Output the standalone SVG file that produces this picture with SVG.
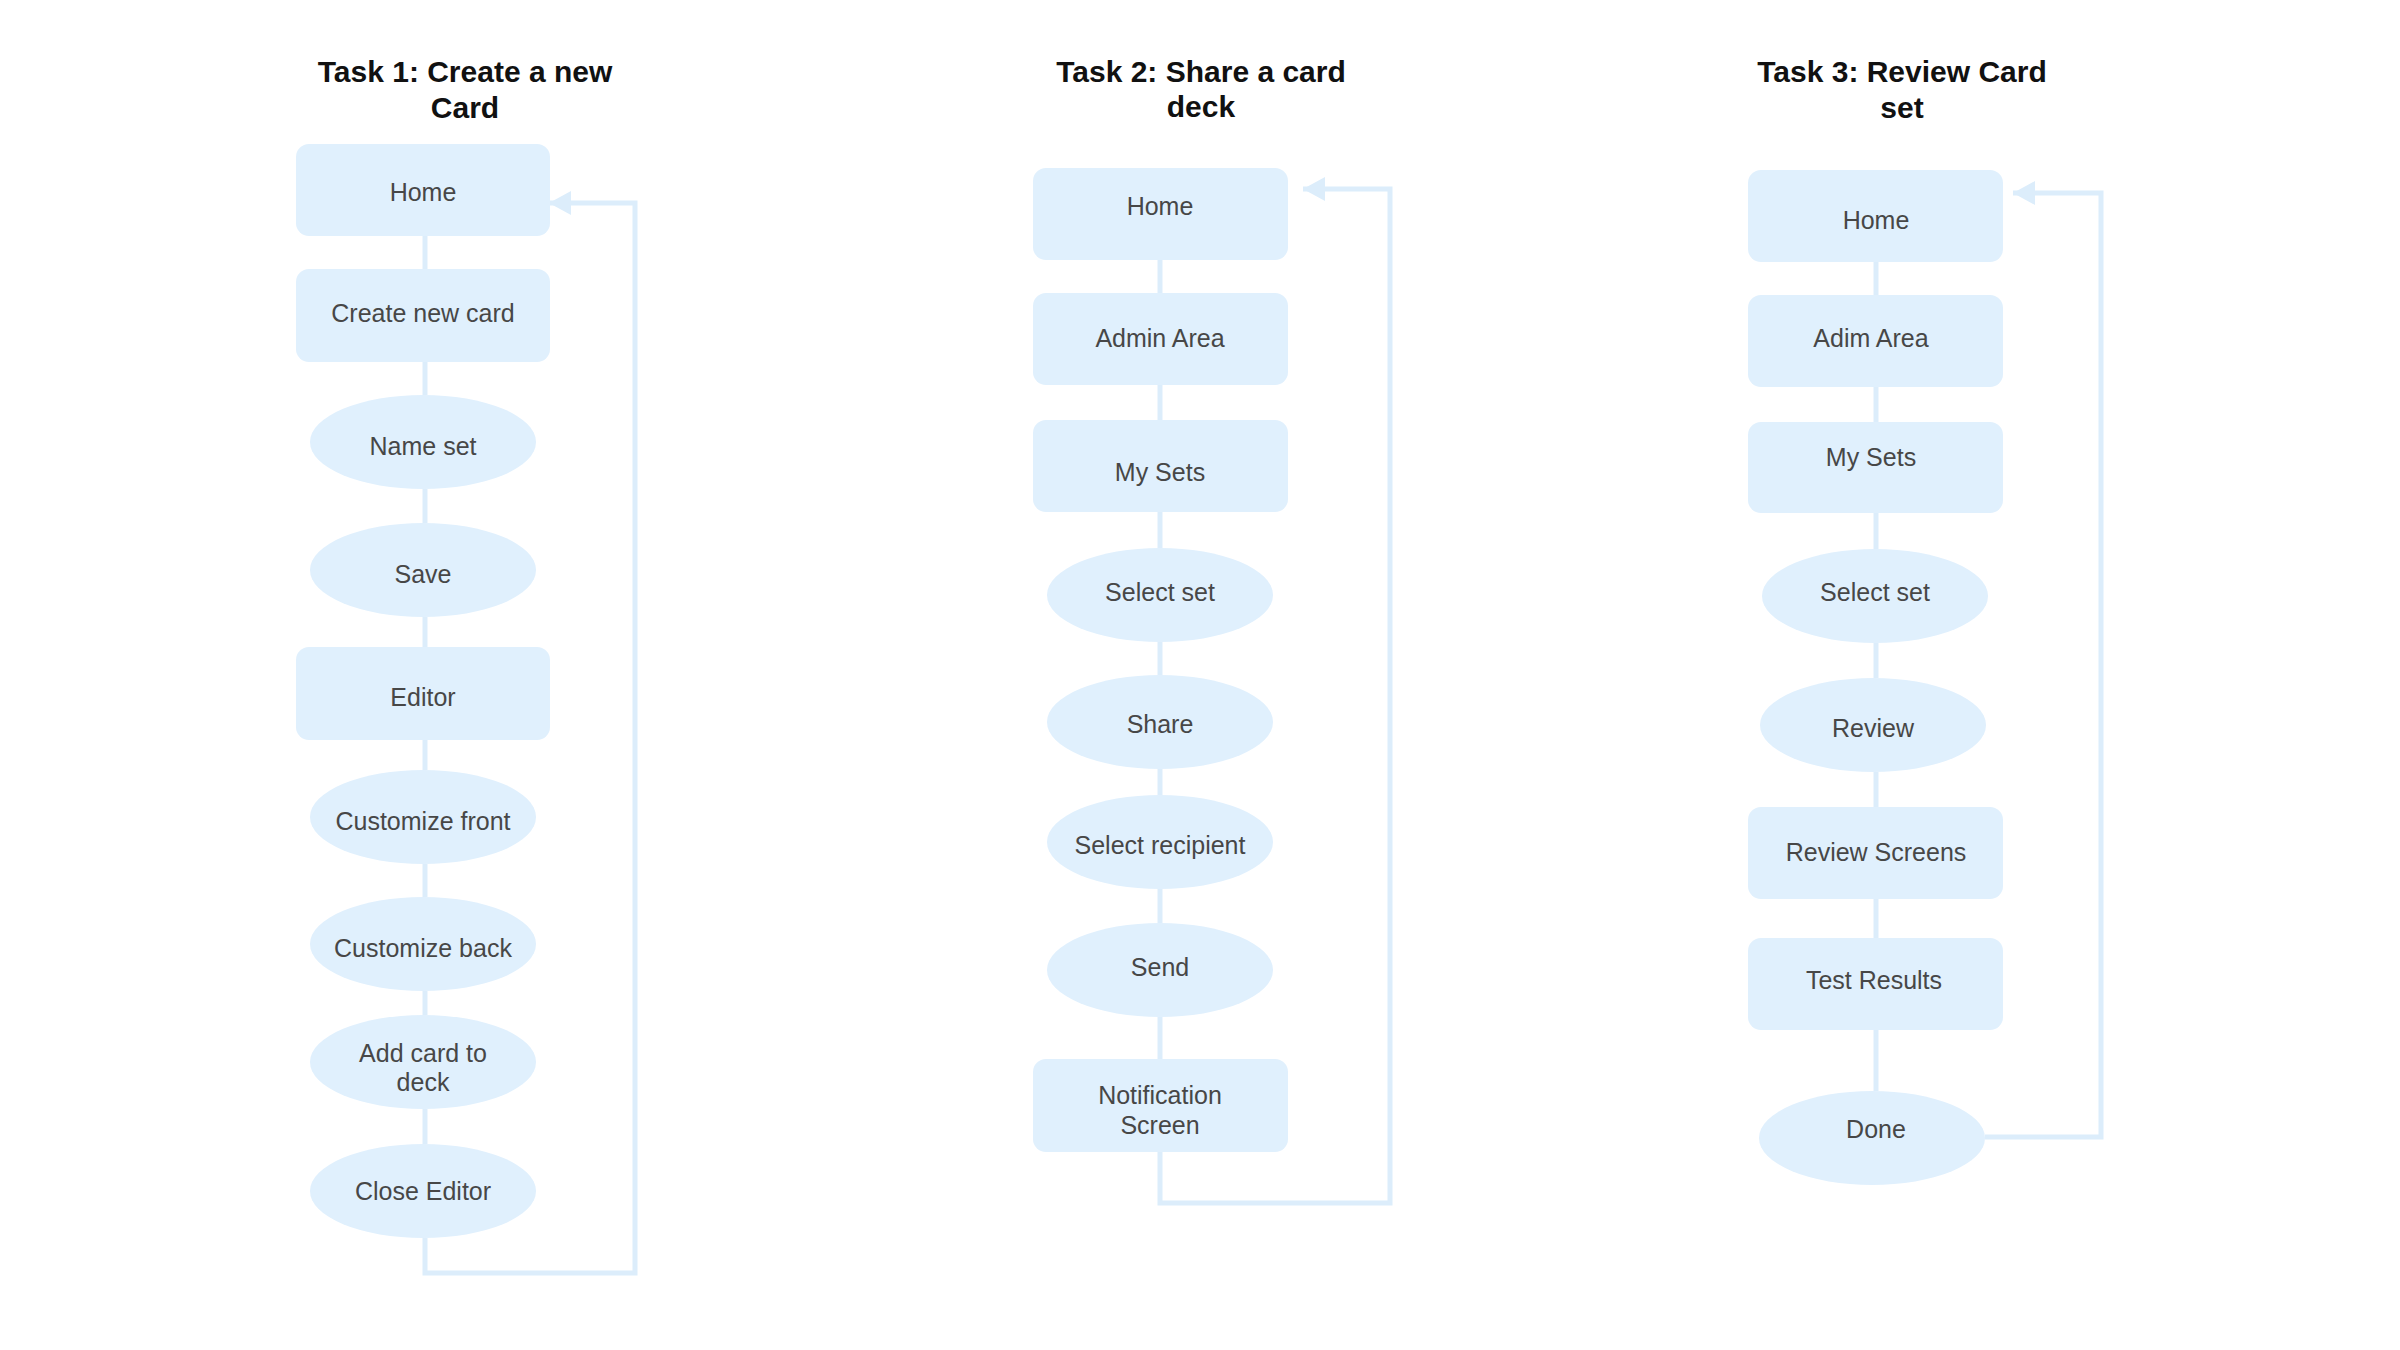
<svg xmlns="http://www.w3.org/2000/svg" width="2400" height="1350" viewBox="0 0 2400 1350">
<style>
.bg{fill:#ffffff}
.title{font-family:"Liberation Sans",Arial,sans-serif;font-size:30px;font-weight:bold;fill:#111111;text-anchor:middle}
.box{fill:#e0f0fd}
.lbl{font-family:"Liberation Sans",Arial,sans-serif;font-size:25px;fill:#474747;text-anchor:middle}
.conn{fill:none;stroke:#dcedfb;stroke-width:5}
</style>
<defs>
<marker id="arr" markerUnits="userSpaceOnUse" markerWidth="24" markerHeight="26" refX="22" refY="12" orient="auto">
<path d="M0,0 L22,12 L0,24 Z" fill="#dcedfb"/>
</marker>
</defs>
<rect class="bg" x="0" y="0" width="2400" height="1350"/>

<g id="titles">
<text class="title" x="465" y="82">Task 1: Create a new</text>
<text class="title" x="465" y="118">Card</text>
<text class="title" x="1201" y="82">Task 2: Share a card</text>
<text class="title" x="1201" y="117">deck</text>
<text class="title" x="1902" y="82">Task 3: Review Card</text>
<text class="title" x="1902" y="118">set</text>
</g>

<g id="connectors">
<!-- Task 1 -->
<line class="conn" x1="425" y1="236" x2="425" y2="269"/>
<line class="conn" x1="425" y1="362" x2="425" y2="395"/>
<line class="conn" x1="425" y1="489" x2="425" y2="523"/>
<line class="conn" x1="425" y1="617" x2="425" y2="647"/>
<line class="conn" x1="425" y1="740" x2="425" y2="770"/>
<line class="conn" x1="425" y1="864" x2="425" y2="897"/>
<line class="conn" x1="425" y1="991" x2="425" y2="1015"/>
<line class="conn" x1="425" y1="1109" x2="425" y2="1144"/>
<path class="conn" d="M425,1238 V1273 H635 V203 H549" marker-end="url(#arr)"/>
<!-- Task 2 -->
<line class="conn" x1="1160" y1="260" x2="1160" y2="293"/>
<line class="conn" x1="1160" y1="385" x2="1160" y2="420"/>
<line class="conn" x1="1160" y1="512" x2="1160" y2="548"/>
<line class="conn" x1="1160" y1="642" x2="1160" y2="675"/>
<line class="conn" x1="1160" y1="769" x2="1160" y2="795"/>
<line class="conn" x1="1160" y1="889" x2="1160" y2="923"/>
<line class="conn" x1="1160" y1="1017" x2="1160" y2="1059"/>
<path class="conn" d="M1160,1152 V1203 H1390 V189 H1303" marker-end="url(#arr)"/>
<!-- Task 3 -->
<line class="conn" x1="1876" y1="262" x2="1876" y2="295"/>
<line class="conn" x1="1876" y1="387" x2="1876" y2="422"/>
<line class="conn" x1="1876" y1="513" x2="1876" y2="549"/>
<line class="conn" x1="1876" y1="643" x2="1876" y2="678"/>
<line class="conn" x1="1876" y1="772" x2="1876" y2="807"/>
<line class="conn" x1="1876" y1="899" x2="1876" y2="938"/>
<line class="conn" x1="1876" y1="1030" x2="1876" y2="1091"/>
<path class="conn" d="M1985,1137 H2101 V193 H2013" marker-end="url(#arr)"/>
</g>

<!-- Task 1 nodes -->
<g id="t1-home"><rect class="box" x="296" y="144" width="254" height="92" rx="13"/><text class="lbl" x="423" y="201">Home</text></g>
<g id="t1-create"><rect class="box" x="296" y="269" width="254" height="93" rx="13"/><text class="lbl" x="423" y="322">Create new card</text></g>
<g id="t1-nameset"><ellipse class="box" cx="423" cy="442" rx="113" ry="47"/><text class="lbl" x="423" y="455">Name set</text></g>
<g id="t1-save"><ellipse class="box" cx="423" cy="570" rx="113" ry="47"/><text class="lbl" x="423" y="583">Save</text></g>
<g id="t1-editor"><rect class="box" x="296" y="647" width="254" height="93" rx="13"/><text class="lbl" x="423" y="706">Editor</text></g>
<g id="t1-front"><ellipse class="box" cx="423" cy="817" rx="113" ry="47"/><text class="lbl" x="423" y="830">Customize front</text></g>
<g id="t1-back"><ellipse class="box" cx="423" cy="944" rx="113" ry="47"/><text class="lbl" x="423" y="957">Customize back</text></g>
<g id="t1-add"><ellipse class="box" cx="423" cy="1062" rx="113" ry="47"/><text class="lbl" x="423" y="1062">Add card to</text><text class="lbl" x="423" y="1091">deck</text></g>
<g id="t1-close"><ellipse class="box" cx="423" cy="1191" rx="113" ry="47"/><text class="lbl" x="423" y="1200">Close Editor</text></g>

<!-- Task 2 nodes -->
<g id="t2-home"><rect class="box" x="1033" y="168" width="255" height="92" rx="13"/><text class="lbl" x="1160" y="215">Home</text></g>
<g id="t2-admin"><rect class="box" x="1033" y="293" width="255" height="92" rx="13"/><text class="lbl" x="1160" y="347">Admin Area</text></g>
<g id="t2-mysets"><rect class="box" x="1033" y="420" width="255" height="92" rx="13"/><text class="lbl" x="1160" y="481">My Sets</text></g>
<g id="t2-select"><ellipse class="box" cx="1160" cy="595" rx="113" ry="47"/><text class="lbl" x="1160" y="601">Select set</text></g>
<g id="t2-share"><ellipse class="box" cx="1160" cy="722" rx="113" ry="47"/><text class="lbl" x="1160" y="733">Share</text></g>
<g id="t2-recipient"><ellipse class="box" cx="1160" cy="842" rx="113" ry="47"/><text class="lbl" x="1160" y="854">Select recipient</text></g>
<g id="t2-send"><ellipse class="box" cx="1160" cy="970" rx="113" ry="47"/><text class="lbl" x="1160" y="976">Send</text></g>
<g id="t2-notif"><rect class="box" x="1033" y="1059" width="255" height="93" rx="13"/><text class="lbl" x="1160" y="1104">Notification</text><text class="lbl" x="1160" y="1134">Screen</text></g>

<!-- Task 3 nodes -->
<g id="t3-home"><rect class="box" x="1748" y="170" width="255" height="92" rx="13"/><text class="lbl" x="1876" y="229">Home</text></g>
<g id="t3-adim"><rect class="box" x="1748" y="295" width="255" height="92" rx="13"/><text class="lbl" x="1871" y="347">Adim Area</text></g>
<g id="t3-mysets"><rect class="box" x="1748" y="422" width="255" height="91" rx="13"/><text class="lbl" x="1871" y="466">My Sets</text></g>
<g id="t3-select"><ellipse class="box" cx="1875" cy="596" rx="113" ry="47"/><text class="lbl" x="1875" y="601">Select set</text></g>
<g id="t3-review"><ellipse class="box" cx="1873" cy="725" rx="113" ry="47"/><text class="lbl" x="1873" y="737">Review</text></g>
<g id="t3-screens"><rect class="box" x="1748" y="807" width="255" height="92" rx="13"/><text class="lbl" x="1876" y="861">Review Screens</text></g>
<g id="t3-test"><rect class="box" x="1748" y="938" width="255" height="92" rx="13"/><text class="lbl" x="1874" y="989">Test Results</text></g>
<g id="t3-done"><ellipse class="box" cx="1872" cy="1138" rx="113" ry="47"/><text class="lbl" x="1876" y="1138">Done</text></g>
</svg>
